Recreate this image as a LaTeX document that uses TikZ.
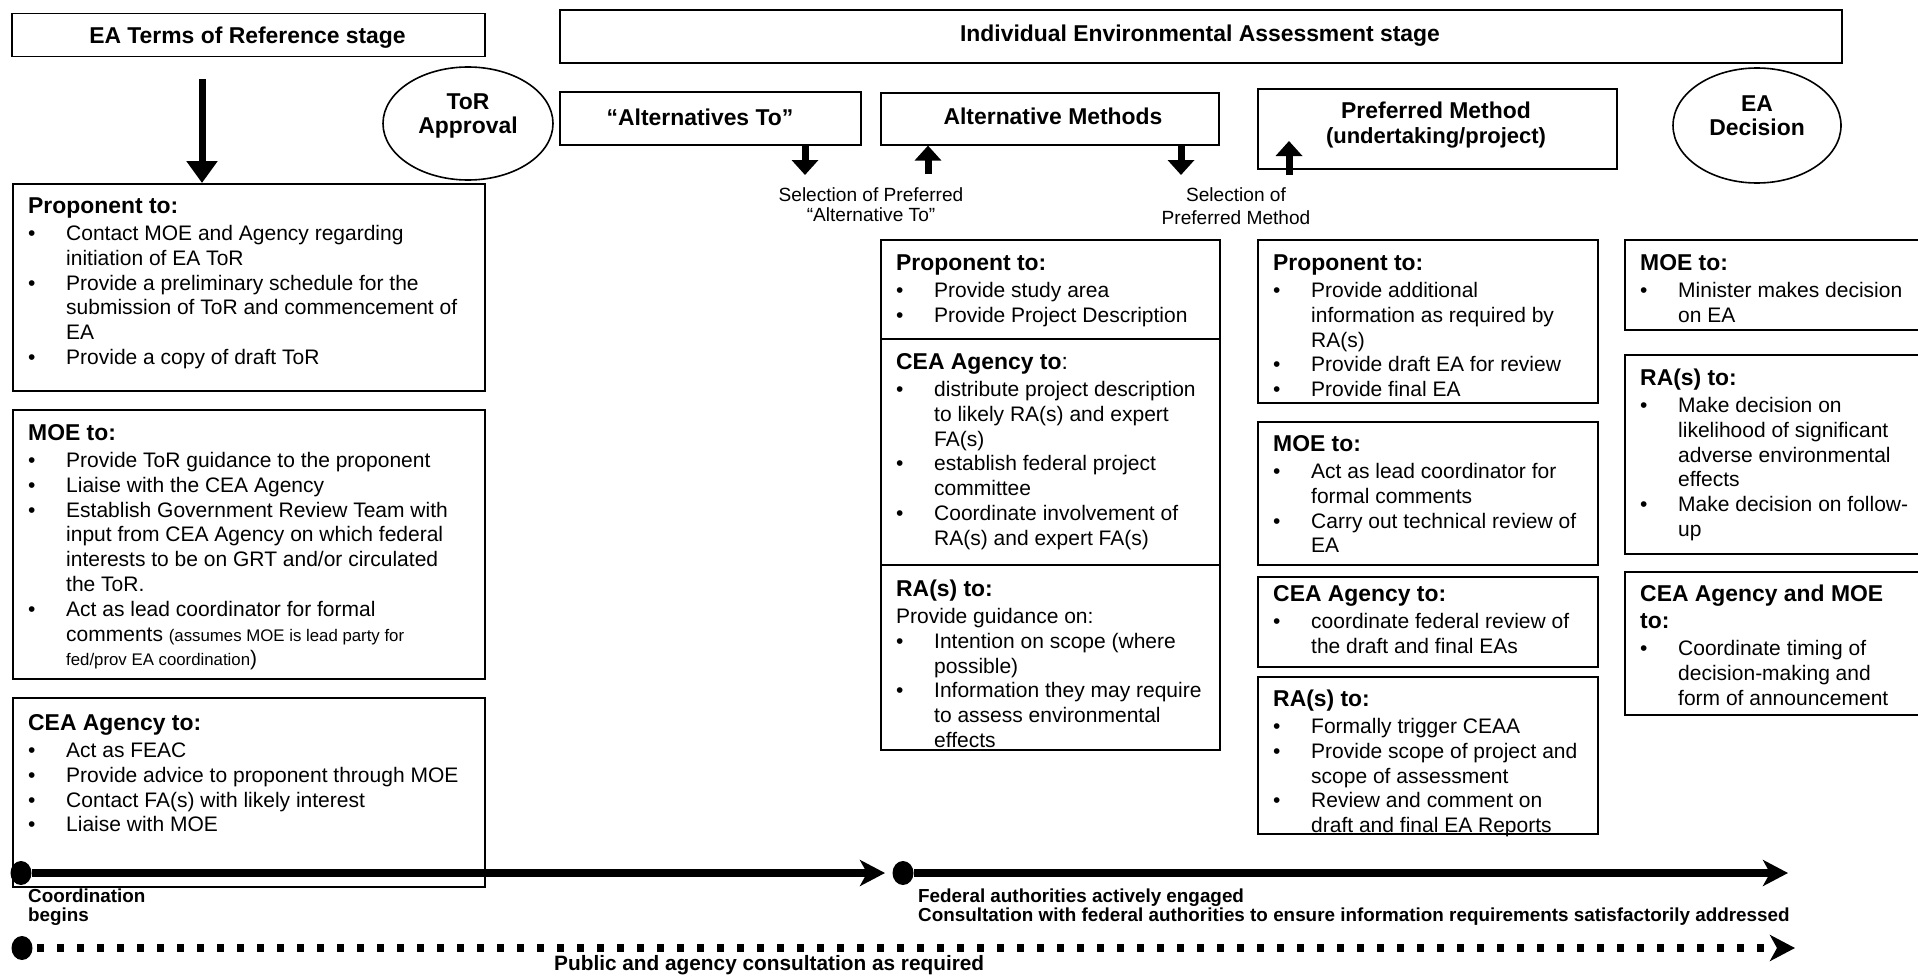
\documentclass[tikz,border=0pt]{standalone}
\usepackage{fontspec}
\setmainfont{Liberation Sans}
\usetikzlibrary{shapes.geometric,arrows.meta,calc}

\newcommand\bl{\makebox[38pt][l]{\textbullet}}
\newcommand\ind{\hspace*{38pt}}
\newcommand\hd[1]{\rule{0pt}{17pt}{\fontsize{22.9}{24.8}\selectfont\bfseries #1}}
\newcommand\hdr[1]{{\fontsize{22.9}{24.8}\selectfont #1}}
\newcommand\sml[1]{{\fontsize{16.8}{24.8}\selectfont #1}}

\tikzset{
 bx/.style={draw, line width=1.6pt, inner sep=0pt, anchor=north west},
 txt/.style={anchor=north west, inner sep=0pt, align=left, font=\fontsize{21}{24.8}\selectfont},
 ttl/.style={font=\fontsize{22.9}{24}\selectfont\bfseries, align=center, inner sep=0pt},
 sel/.style={anchor=north, inner sep=0pt, align=center},
 lbl/.style={anchor=north west, inner sep=0pt, align=left, font=\fontsize{18.85}{19}\selectfont\bfseries},
 arr/.style={line width=7pt, -{Triangle[length=15pt,width=26pt]}},
 arrbig/.style={line width=7pt, -{Triangle[length=22pt,width=30pt]}},
 tl/.style={line width=8pt, -{Stealth[length=25pt,width=26pt,inset=7pt]}},
 dotn/.style={ellipse, fill=black, minimum width=21pt, minimum height=24pt, inner sep=0pt},
}

\begin{document}
\begin{tikzpicture}[x=1pt,y=-1pt]
\useasboundingbox (0,0) rectangle (1918,979);

% ---------- stage headers ----------
\node[bx, minimum width=473pt, minimum height=43pt] (stA) at (11,12.7) {};
\node[ttl, anchor=base] (stAt) at (247.5,43.2) {EA Terms of Reference stage};
\node[bx, minimum width=1282pt, minimum height=53pt] (stB) at (559,9) {};
\node[ttl, anchor=base] (stBt) at (1200,41.2) {Individual Environmental Assessment stage};

% ---------- milestones ----------
\node[draw, line width=1.6pt, ellipse, inner sep=0pt, minimum width=170pt, minimum height=113pt] (tor) at (468,123.5) {};
\node[ttl, anchor=north] (tort) at (468,92) {\rule{0pt}{17pt}ToR\\Approval};
\node[draw, line width=1.6pt, ellipse, inner sep=0pt, minimum width=168pt, minimum height=115pt] (ead) at (1757,125.5) {};
\node[ttl, anchor=north] (eadt) at (1757,94) {\rule{0pt}{17pt}EA\\Decision};

% ---------- phases ----------
\node[bx, minimum width=301pt, minimum height=53pt] (alt) at (559,91) {};
\node[ttl, anchor=base] (altt) at (700,125) {“Alternatives To”};
\node[bx, minimum width=338pt, minimum height=52pt] (am) at (880,92) {};
\node[ttl, anchor=base] (amt) at (1053,124.5) {Alternative Methods};
\node[bx, minimum width=359pt, minimum height=80pt] (pm) at (1257,88) {};
\node[ttl, anchor=base] (pmt) at (1436,119) {Preferred Method};
\node[ttl, anchor=base, font=\fontsize{22}{24}\selectfont\bfseries] (pmt2) at (1436,143) {(undertaking/project)};

% ---------- left column ----------
\node[bx, minimum width=472pt, minimum height=207pt] (pL) at (12,183) {};
\node[txt] (pLt) at (28,196.2) {\hd{Proponent to:}\\[2.2pt]
\bl Contact MOE and Agency regarding\\
\ind initiation of EA ToR\\
\bl Provide a preliminary schedule for the\\
\ind submission of ToR and commencement of\\
\ind EA\\
\bl Provide a copy of draft ToR};

\node[bx, minimum width=472pt, minimum height=269pt] (mL) at (12,409) {};
\node[txt] (mLt) at (28,423.2) {\hd{MOE to:}\\[2.2pt]
\bl Provide ToR guidance to the proponent\\
\bl Liaise with the CEA Agency\\
\bl Establish Government Review Team with\\
\ind input from CEA Agency on which federal\\
\ind interests to be on GRT and/or circulated\\
\ind the ToR.\\
\bl Act as lead coordinator for formal\\
\ind comments \sml{(assumes MOE is lead party for}\\
\ind \sml{fed/prov EA coordination})};

\node[bx, minimum width=472pt, minimum height=189pt] (cL) at (12,697) {};
\node[txt] (cLt) at (28,713.2) {\hd{CEA Agency to:}\\[2.2pt]
\bl Act as FEAC\\
\bl Provide advice to proponent through MOE\\
\bl Contact FA(s) with likely interest\\
\bl Liaise with MOE};

% ---------- middle column ----------
\node[bx, minimum width=339pt, minimum height=99pt] (pA) at (880,239) {};
\node[txt] (pAt) at (896,253.2) {\hd{Proponent to:}\\[2.2pt]
\bl Provide study area\\
\bl Provide Project Description};
\node[bx, minimum width=339pt, minimum height=226pt] (cA) at (880,338) {};
\node[txt] (cAt) at (896,352.2) {\hd{CEA Agency to}\hdr{:}\\[2.2pt]
\bl distribute project description\\
\ind to likely RA(s) and expert\\
\ind FA(s)\\
\bl establish federal project\\
\ind committee\\
\bl Coordinate involvement of\\
\ind RA(s) and expert FA(s)};
\node[bx, minimum width=339pt, minimum height=185pt] (rA) at (880,564) {};
\node[txt] (rAt) at (896,579.2) {\hd{RA(s) to:}\\[2.2pt]
Provide guidance on:\\
\bl Intention on scope (where\\
\ind possible)\\
\bl Information they may require\\
\ind to assess environmental\\
\ind effects};

% ---------- right-middle column ----------
\node[bx, minimum width=340pt, minimum height=163pt] (pP) at (1257,239) {};
\node[txt] (pPt) at (1273,253.2) {\hd{Proponent to:}\\[2.2pt]
\bl Provide additional\\
\ind information as required by\\
\ind RA(s)\\
\bl Provide draft EA for review\\
\bl Provide final EA};
\node[bx, minimum width=340pt, minimum height=143pt] (mP) at (1257,421) {};
\node[txt] (mPt) at (1273,434.2) {\hd{MOE to:}\\[2.2pt]
\bl Act as lead coordinator for\\
\ind formal comments\\
\bl Carry out technical review of\\
\ind EA};
\node[bx, minimum width=340pt, minimum height=90pt] (cP) at (1257,576) {};
\node[txt] (cPt) at (1273,584.2) {\hd{CEA Agency to:}\\[2.2pt]
\bl coordinate federal review of\\
\ind the draft and final EAs};
\node[bx, minimum width=340pt, minimum height=157pt] (rP) at (1257,676) {};
\node[txt] (rPt) at (1273,689.2) {\hd{RA(s) to:}\\[2.2pt]
\bl Formally trigger CEAA\\
\bl Provide scope of project and\\
\ind scope of assessment\\
\bl Review and comment on\\
\ind draft and final EA Reports};

% ---------- right column ----------
\node[bx, minimum width=300pt, minimum height=90pt] (mD) at (1624,239) {};
\node[txt] (mDt) at (1640,253.2) {\hd{MOE to:}\\[2.2pt]
\bl Minister makes decision\\
\ind on EA};
\node[bx, minimum width=300pt, minimum height=199pt] (rD) at (1624,354) {};
\node[txt] (rDt) at (1640,368.2) {\hd{RA(s) to:}\\[2.2pt]
\bl Make decision on\\
\ind likelihood of significant\\
\ind adverse environmental\\
\ind effects\\
\bl Make decision on follow-\\
\ind up};
\node[bx, minimum width=300pt, minimum height=143pt] (cD) at (1624,571) {};
\node[txt] (cDt) at (1640,584.2) {\hd{CEA Agency and MOE}\\[2.2pt]
\hd{to:}\\[2.2pt]
\bl Coordinate timing of\\
\ind decision-making and\\
\ind form of announcement};

% ---------- arrows ----------
\coordinate (a0) at (202,79);
\draw[arrbig] (a0) -- (a0 |- pL.north);
\coordinate (s1) at (805,175);
\draw[arr] (alt.south -| s1) -- (s1);
\coordinate (u1) at (928,174);
\draw[arr] (u1) -- (u1 |- am.south);
\coordinate (s2) at (1181,175);
\draw[arr] (am.south -| s2) -- (s2);
\coordinate (u2) at (1289,175);
\coordinate (u2t) at (1289,141);
\draw[arr] (u2) -- (u2t);

\node[sel, font=\fontsize{19.1}{20}\selectfont] (sel1) at (871,186.8) {\rule{0pt}{14pt}Selection of Preferred\\“Alternative To”};
\node[sel, font=\fontsize{19.1}{23}\selectfont] (sel2) at (1236,186.8) {\rule{0pt}{14pt}Selection of\\Preferred Method};

% ---------- timelines ----------
\node[dotn] (d1) at (21,873) {};
\coordinate (t1) at (885,873);
\draw[tl] (d1) -- (t1);
\node[dotn] (d2) at (903,873) {};
\coordinate (t2) at (1788,873);
\draw[tl] (d2) -- (t2);
\node[dotn] (d3) at (22,948) {};
\coordinate (t3) at (1795,948);
\draw[tl, dash pattern=on 7pt off 13pt, dash phase=15.5pt] (d3) -- (t3);

\node[lbl] (lb1) at (28,888.3) {\rule{0pt}{14pt}Coordination\\begins};
\node[lbl] (lb2) at (918,888.3) {\rule{0pt}{14pt}Federal authorities actively engaged\\Consultation with federal authorities to ensure information requirements satisfactorily addressed};
\node[lbl, font=\fontsize{20.8}{21}\selectfont\bfseries] (lb3) at (554,955.2) {\rule{0pt}{15pt}Public and agency consultation as required};
\end{tikzpicture}
\end{document}
